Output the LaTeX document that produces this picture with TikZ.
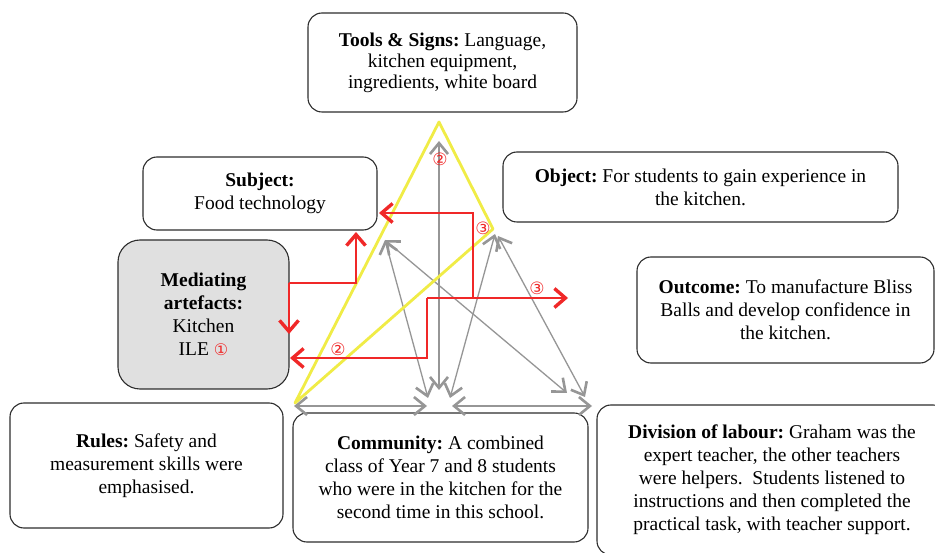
\documentclass[tikz,border=0pt]{standalone}
\usepackage{fontspec}
\setmainfont{Liberation Serif}
\newfontfamily\symfont{DejaVu Sans}
\usetikzlibrary{arrows.meta}
\definecolor{boxline}{RGB}{45,45,45}
\definecolor{medfill}{RGB}{224,224,224}
\definecolor{arrgray}{RGB}{150,150,150}
\definecolor{redarr}{RGB}{240,40,40}
\definecolor{yel}{RGB}{240,236,70}
\tikzset{
  box/.style={draw=boxline, line width=1.1pt, rounded corners=14pt, fill=white,
    align=center, inner sep=0pt, font=\fontsize{19.5}{23}\selectfont},
  graywire/.style={draw=arrgray, line width=1.3pt,
    {Straight Barb[length=11pt,width=18pt,line width=2.6pt]}-{Straight Barb[length=11pt,width=18pt,line width=2.6pt]}},
  graybase/.style={graywire, line width=2.8pt},
  redwire/.style={draw=redarr, line width=1.8pt, line join=miter,
    -{Straight Barb[length=11pt,width=19pt,line width=3.4pt]}},
  yelline/.style={draw=yel, line width=2.8pt, line join=round},
  numlabel/.style={text=redarr, font=\symfont\fontsize{17}{17}\selectfont, inner sep=0pt}
}
\begin{document}
\frenchspacing
\begin{tikzpicture}[x=1pt,y=-1pt]
\useasboundingbox (0,0) rectangle (935,553);
\clip (0,0) rectangle (935,553);
\fill[white] (0,0) rectangle (935,553);

% boxes
\node[box, font=\fontsize{19.5}{21}\selectfont, minimum width=269pt, minimum height=99pt] (tools) at (442.5,62.5)
  {\textbf{Tools \& Signs:} Language,\\ kitchen equipment,\\ ingredients, white board};
\node[box, minimum width=234pt, minimum height=73pt] (subject) at (260,193.5)
  {\textbf{Subject:}\\ Food technology};
\node[box, fill=medfill, rounded corners=22pt, minimum width=171pt, minimum height=149pt] (medart) at (203.5,314.5)
  {\textbf{Mediating}\\ \textbf{artefacts:}\\ Kitchen\\ ILE {\symfont\fontsize{16}{16}\selectfont\textcolor{redarr}{①}}};
\node[box, minimum width=395pt, minimum height=70pt] (object) at (700.5,187)
  {\textbf{Object:} For students to gain experience in\\ the kitchen.};
\node[box, minimum width=297pt, minimum height=106pt] (outcome) at (785.5,310)
  {\textbf{Outcome:} To manufacture Bliss\\ Balls and develop confidence in\\ the kitchen.};
\node[box, minimum width=273pt, minimum height=125pt] (rules) at (146.5,465.5)
  {\textbf{Rules:} Safety and\\ measurement skills were\\ emphasised.};
\node[box, minimum width=295pt, minimum height=129pt] (community) at (440.5,477.5)
  {\textbf{Community:} A combined\\ class of Year 7 and 8 students\\ who were in the kitchen for the\\ second time in this school.};
\node[box, minimum width=350pt, minimum height=150pt] (division) at (772,480)
  {\textbf{Division of labour:} Graham was the\\ expert teacher, the other teachers\\ were helpers.\ \ Students listened to\\ instructions and then completed the\\ practical task, with teacher support.};

% gray activity-triangle coordinates
\coordinate (gTop) at (439,141);
\coordinate (gBot) at (439,390);
\coordinate (gL) at (385,240);
\coordinate (gR) at (495,234);
\coordinate (gBL) at (294,406);
\coordinate (gBMl) at (427,406);
\coordinate (gBMr) at (452,406);
\coordinate (gBR) at (592,406);
\coordinate (gRa) at (498,236);
\coordinate (gBRa) at (585,397);
\coordinate (gLb) at (428,398);
\coordinate (gLr) at (567,393);
\coordinate (gRb) at (450,398);

\draw[graywire] (gTop) -- (gBot);
\draw[graywire] (gL) -- (gLb);
\draw[graywire] (gL) -- (gLr);
\draw[graywire] (gR) -- (gRb);
\draw[graywire] (gRa) -- (gBRa);
\draw[graybase] (gBL) -- (gBMl);
\draw[graybase] (gBMr) -- (gBR);

% yellow triangle
\coordinate (yT) at (439,122);
\coordinate (yBL) at (295,403);
\coordinate (yR) at (493,229);
\draw[yelline] (yT) -- (yR) -- (yBL) -- cycle;

% red arrows
\coordinate (m1) at (289,283);
\coordinate (s1) at (356,283);
\coordinate (subjB) at (356,232);
\coordinate (m2) at (289,334);
\coordinate (r3a) at (473,298);
\coordinate (r3b) at (473,213);
\coordinate (subjR) at (379,213);
\coordinate (jn) at (427,298);
\coordinate (outA) at (568,298);
\coordinate (jn2) at (427,358);
\coordinate (medR) at (290,358);

\draw[redwire] (m1) -- (s1) -- (subjB);
\draw[redwire] (m1) -- (m2);
\draw[redwire] (r3a) -- (r3b) -- (subjR);
\draw[redwire] (jn) -- (outA);
\draw[redwire] (jn) -- (jn2) -- (medR);

% numbered labels
\node[numlabel] (n2a) at (440,159) {②};
\node[numlabel] (n3a) at (483,228) {③};
\node[numlabel] (n3b) at (537,288) {③};
\node[numlabel] (n2b) at (338,349) {②};
\end{tikzpicture}
\end{document}
